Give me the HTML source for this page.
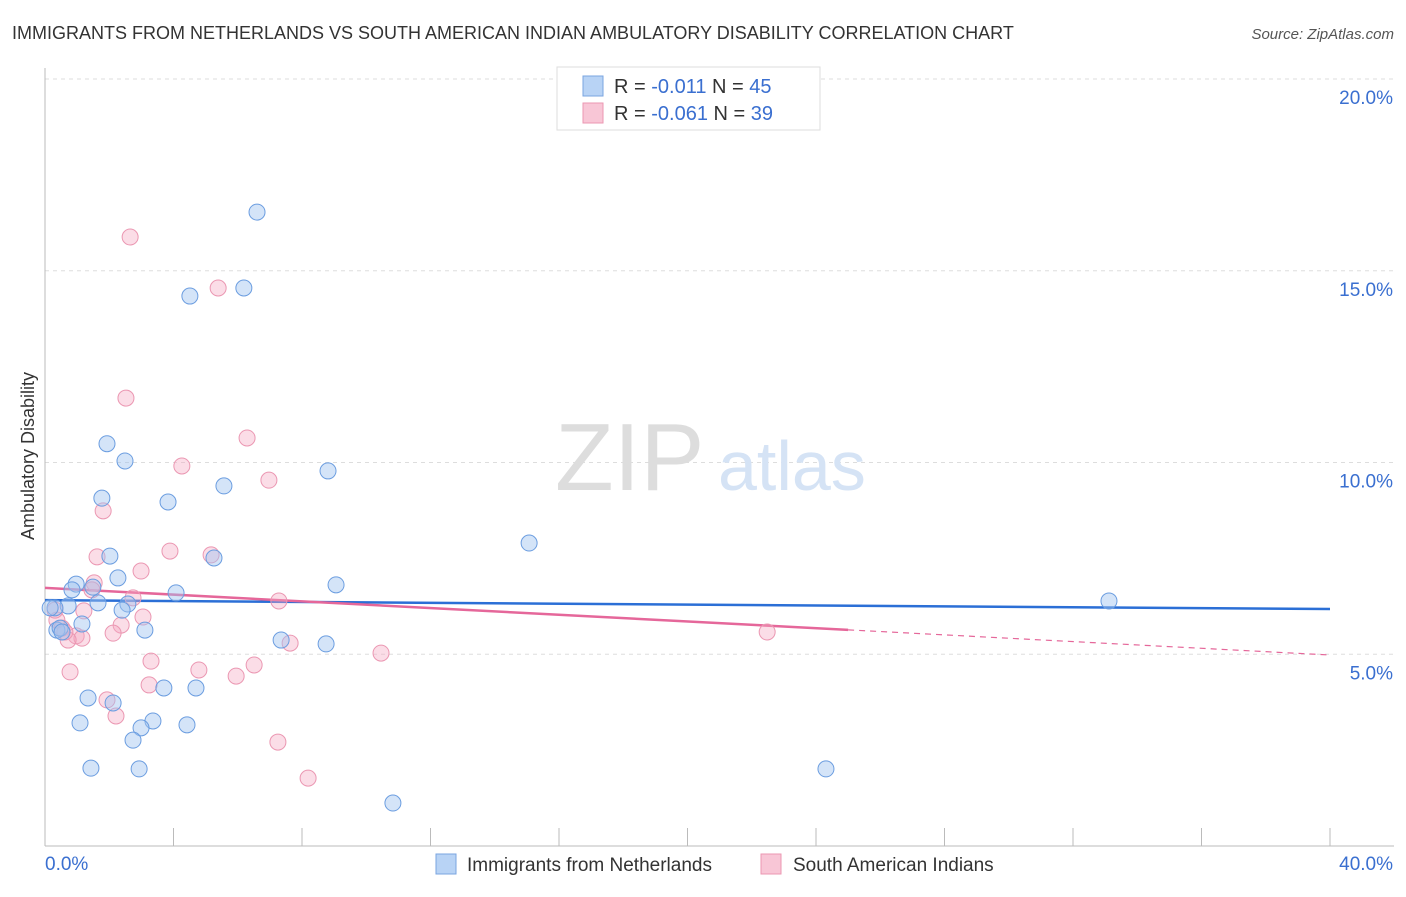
<!DOCTYPE html>
<html><head><meta charset="utf-8"><style>
body{margin:0;background:#fff;font-family:"Liberation Sans",sans-serif;}
svg text{font-family:"Liberation Sans",sans-serif;}
</style></head><body>
<svg id="chart" width="1406" height="892" xmlns="http://www.w3.org/2000/svg">
<text x="12" y="39" font-size="18" fill="#333">IMMIGRANTS FROM NETHERLANDS VS SOUTH AMERICAN INDIAN AMBULATORY DISABILITY CORRELATION CHART</text>
<text x="1394" y="39" font-size="15" fill="#555" font-style="italic" text-anchor="end">Source: ZipAtlas.com</text>
<g id="grid"></g>
<g id="axes"></g>
<text x="555" y="490" font-size="96" fill="#ddd" font-family="Liberation Serif">ZIP</text>
<text x="718" y="490" font-size="70" fill="#d5e3f5">atlas</text>
<g id="trends"></g>
<g id="points"></g>
<text transform="translate(34,456) rotate(-90)" font-size="18" fill="#333" text-anchor="middle">Ambulatory Disability</text>
<g>
<rect x="557" y="67" width="263" height="63" fill="#fff" stroke="#ddd"/>
<rect x="583" y="76" width="20" height="20" fill="#b8d3f5" stroke="#7aa5e0"/>
<rect x="583" y="103" width="20" height="20" fill="#f8c6d6" stroke="#eb97b2"/>
<text x="614" y="93" font-size="20" fill="#333">R = <tspan fill="#3a6fd0">-0.011</tspan>   N = <tspan fill="#3a6fd0">45</tspan></text>
<text x="614" y="120" font-size="20" fill="#333">R = <tspan fill="#3a6fd0">-0.061</tspan>   N = <tspan fill="#3a6fd0">39</tspan></text>
</g>
<g>
<rect x="436" y="854" width="20" height="20" fill="#b8d3f5" stroke="#7aa5e0"/>
<text x="467" y="871" font-size="19" fill="#333">Immigrants from Netherlands</text>
<rect x="761" y="854" width="20" height="20" fill="#f8c6d6" stroke="#eb97b2"/>
<text x="793" y="871" font-size="19" fill="#333">South American Indians</text>
</g>
</svg>
<script>
const blueX=[6.60,4.51,6.19,1.93,2.49,8.81,1.77,3.83,5.57,15.07,2.02,5.26,2.27,0.97,0.84,9.06,4.08,1.49,1.65,0.72,2.58,2.40,0.31,33.12,1.15,3.11,0.37,0.47,7.35,8.75,3.70,4.70,1.34,2.12,1.09,3.36,4.42,2.99,2.74,1.43,2.93,24.31,10.83,0.16,0.53];
const blueY=[16.53,14.34,14.55,10.49,10.04,9.78,9.07,8.97,9.39,7.90,7.56,7.51,6.99,6.83,6.68,6.81,6.60,6.75,6.34,6.26,6.31,6.15,6.21,6.39,5.79,5.63,5.63,5.68,5.37,5.27,4.12,4.12,3.86,3.73,3.21,3.26,3.16,3.08,2.76,2.03,2.01,2.01,1.12,6.21,5.58];
const pinkX=[2.65,5.39,2.52,6.29,4.26,6.97,1.81,3.89,1.62,5.17,2.99,1.53,1.46,2.74,7.28,1.21,3.05,0.37,2.37,0.53,0.97,2.12,1.15,0.72,7.63,22.48,10.46,3.30,4.79,6.51,5.95,0.78,3.24,1.93,2.21,7.25,8.19,0.31,0.62];
const pinkY=[15.88,14.55,11.68,10.64,9.91,9.54,8.74,7.69,7.54,7.59,7.17,6.86,6.68,6.47,6.39,6.13,5.97,5.89,5.76,5.68,5.48,5.55,5.42,5.37,5.29,5.58,5.03,4.82,4.59,4.72,4.43,4.54,4.20,3.81,3.39,2.71,1.77,6.15,5.58];
const yTicks=[5,10,15,20];
const yTickLabels=["5.0%","10.0%","15.0%","20.0%"];
const blueTrend=[6.41,6.18];
const pinkTrend=[6.73,4.98];
const NS='http://www.w3.org/2000/svg';
const xs=v=>45+v/40*1285;
const ys=v=>846-v*38.35;
function mk(tag,attrs,parent){const e=document.createElementNS(NS,tag);for(const k in attrs)e.setAttribute(k,attrs[k]);document.getElementById(parent).appendChild(e);return e;}
yTicks.forEach((t,i)=>{
 const l=mk('line',{x1:45,x2:1394,y1:ys(t),y2:ys(t),stroke:'#ddd','stroke-dasharray':'4,4'},'grid');
 
 
 const tx=mk('text',{x:1393,y:ys(t)+25,'font-size':19,fill:'#3a6fd0','text-anchor':'end'},'grid');
 tx.textContent=yTickLabels[i];
 
 
});
const ax=mk('line',{x1:45,x2:1394,y1:846,y2:846,stroke:'#bbb'},'axes');


const ay=mk('line',{x1:45,x2:45,y1:68,y2:846,stroke:'#bbb'},'axes');


for(let i=0;i<=10;i++){const t=mk('line',{x1:xs(i*4),x2:xs(i*4),y1:828,y2:846,stroke:'#bbb'},'axes');
 
 }
const x0=mk('text',{x:45,y:870,'font-size':19,fill:'#3a6fd0'},'axes');x0.textContent='0.0%';


const x1=mk('text',{x:1393,y:870,'font-size':19,fill:'#3a6fd0','text-anchor':'end'},'axes');x1.textContent='40.0%';


const bt=mk('line',{x1:xs(0),x2:xs(40),y1:ys(blueTrend[0]),y2:ys(blueTrend[1]),stroke:'#2b6fd6','stroke-width':2.5},'trends');


const pm=pinkTrend[0]+(pinkTrend[1]-pinkTrend[0])*25/40;
const pt=mk('line',{x1:xs(0),x2:xs(25),y1:ys(pinkTrend[0]),y2:ys(pm),stroke:'#e5679a','stroke-width':2.5},'trends');


const pd=mk('line',{x1:xs(25),x2:xs(40),y1:ys(pm),y2:ys(pinkTrend[1]),stroke:'#e5679a','stroke-width':1.2,'stroke-dasharray':'6,5'},'trends');


pinkX.forEach((v,i)=>{const c=mk('circle',{cx:xs(v),cy:ys(pinkY[i]),r:8,fill:'rgba(244,170,196,0.4)',stroke:'#eb97b2','stroke-width':1},'points');
 
 });
blueX.forEach((v,i)=>{const c=mk('circle',{cx:xs(v),cy:ys(blueY[i]),r:8,fill:'rgba(160,195,240,0.45)',stroke:'#6b9de0','stroke-width':1},'points');
 
 });
</script>
</body></html>
